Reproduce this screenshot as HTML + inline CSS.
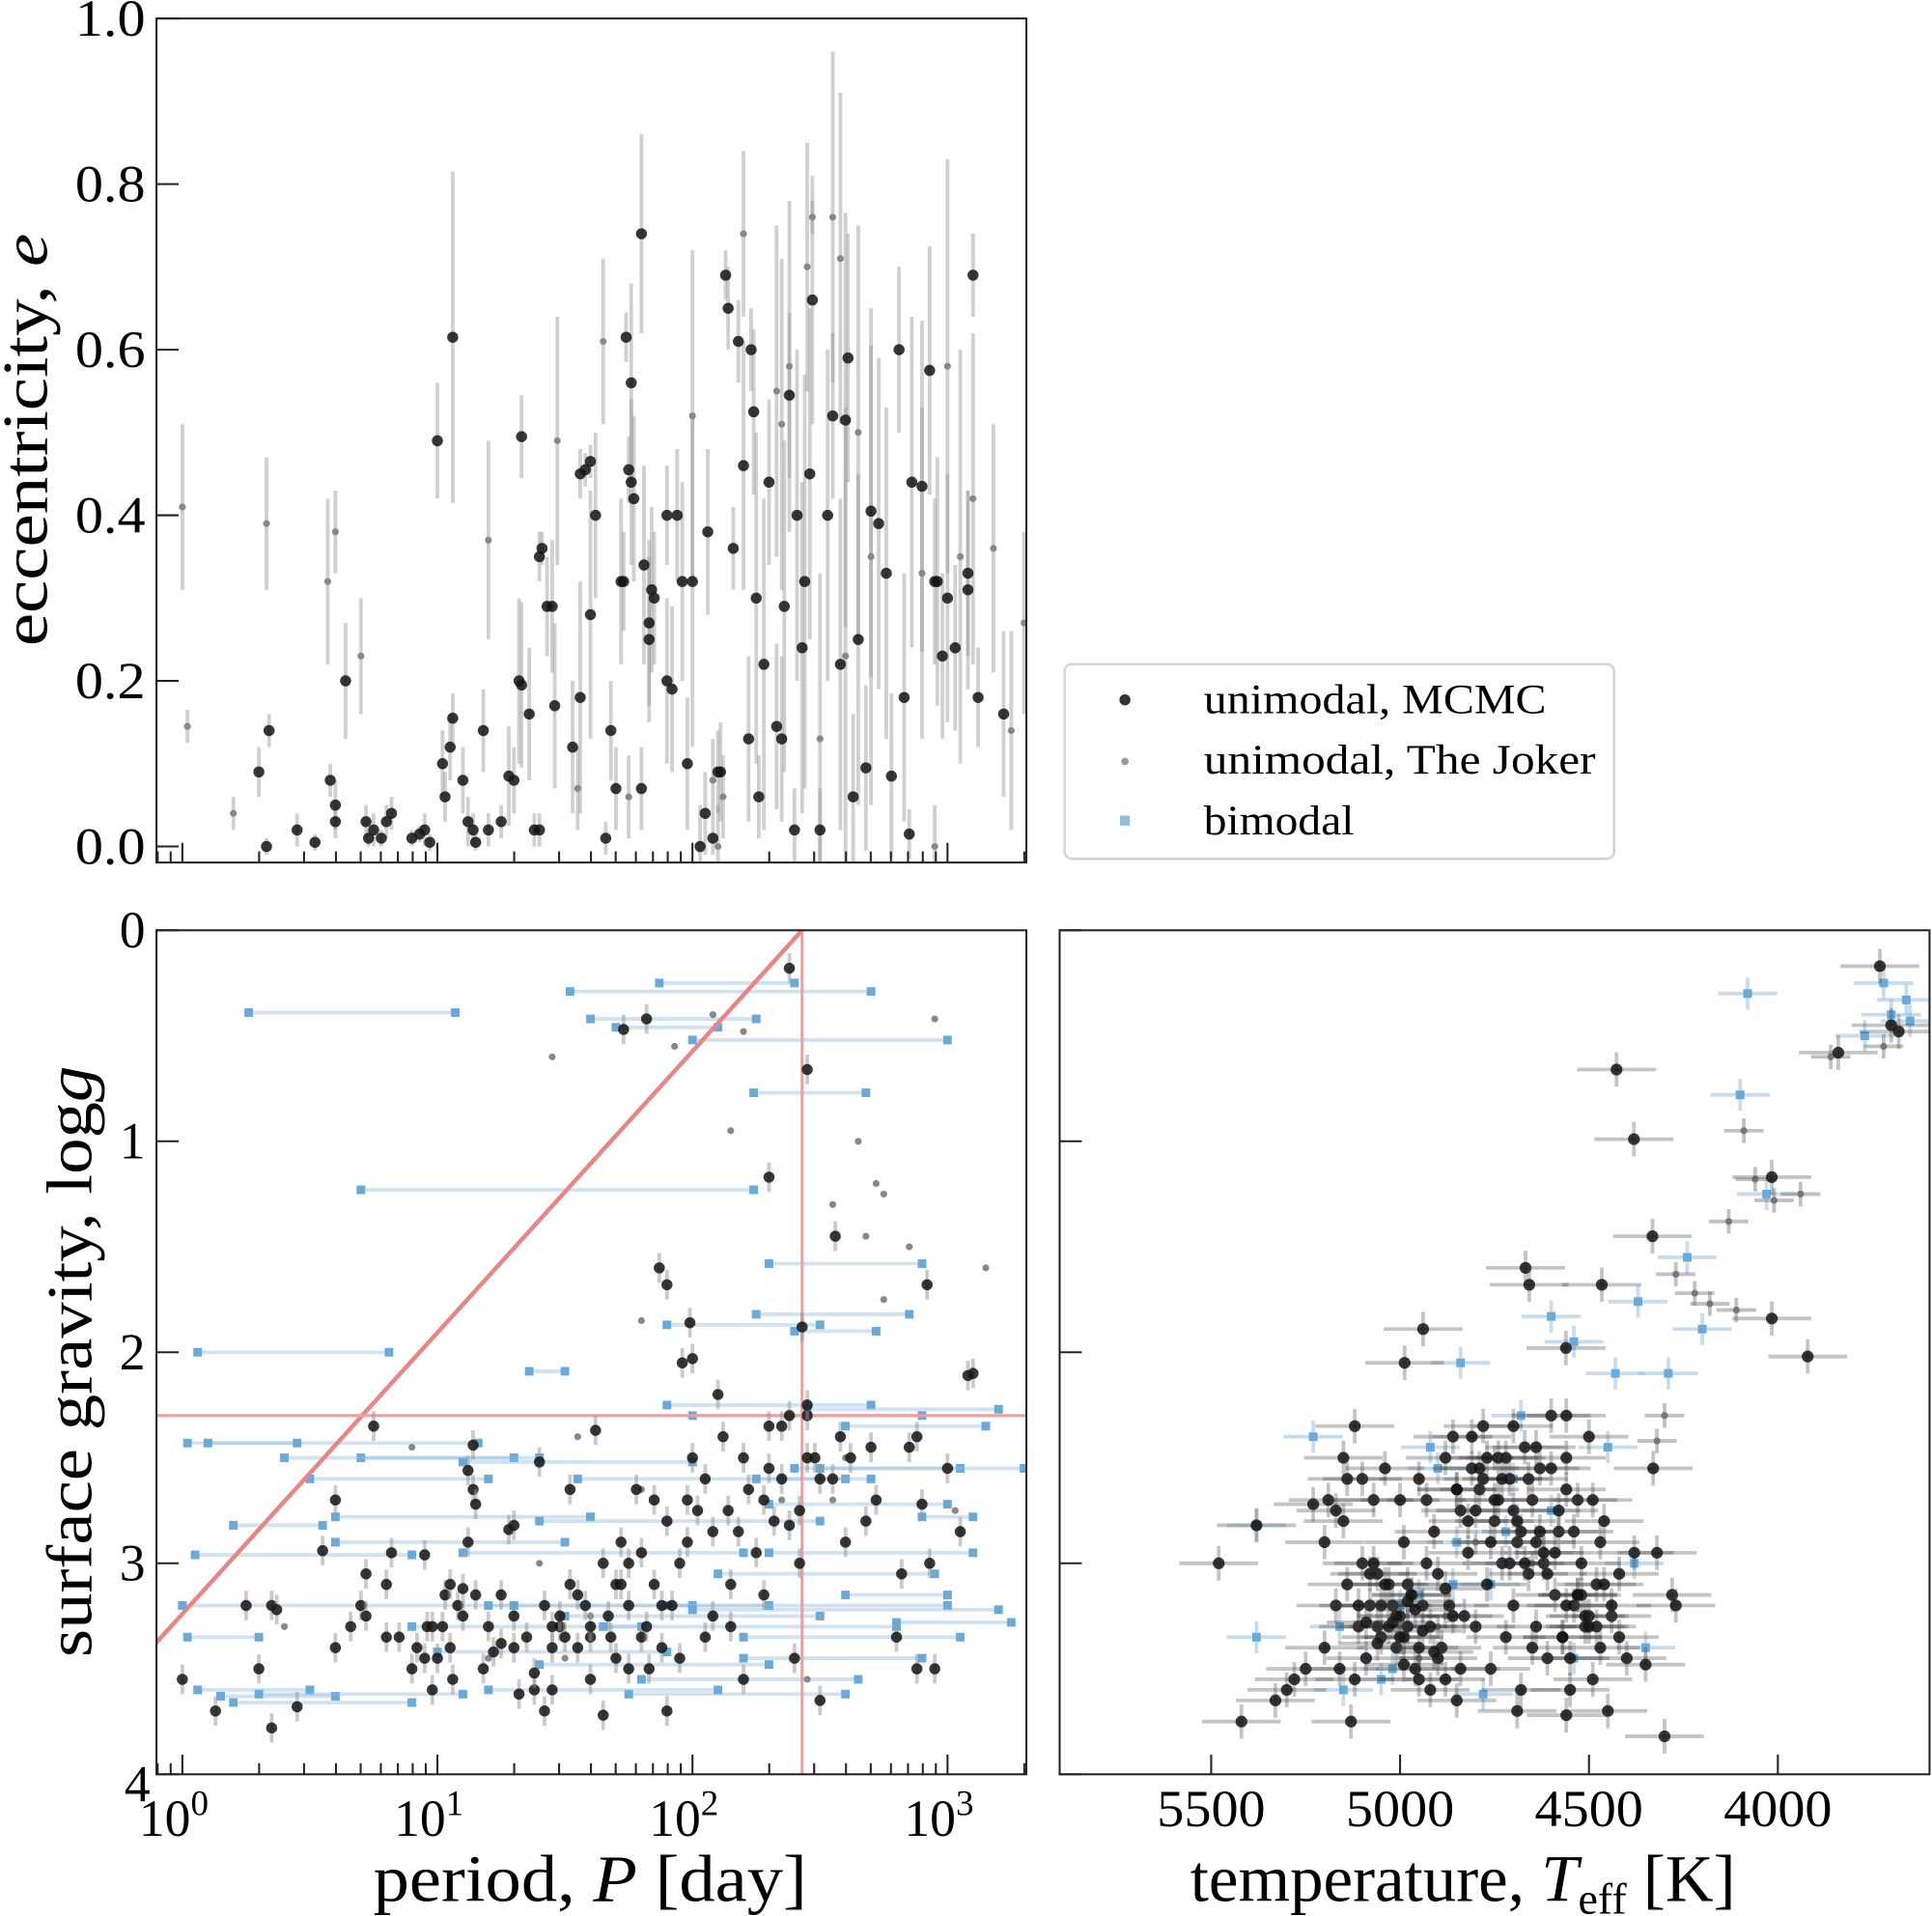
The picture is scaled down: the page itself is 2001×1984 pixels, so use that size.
<!DOCTYPE html>
<html><head><meta charset="utf-8"><style>
html,body{margin:0;padding:0;background:#fff;}
svg{display:block;font-family:"Liberation Serif",serif;}
</style></head><body>
<svg id="fig" width="2001" height="1984" viewBox="0 0 1568 1555" preserveAspectRatio="none" xmlns="http://www.w3.org/2000/svg">
<defs>
<clipPath id="cTop"><rect x="127" y="15" width="706" height="685"/></clipPath>
<clipPath id="cBL"><rect x="127" y="755" width="706" height="685"/></clipPath>
<clipPath id="cBR"><rect x="860" y="755" width="706" height="685"/></clipPath>
</defs>
<g id="gTop" clip-path="url(#cTop)"></g>
<g id="gBL" clip-path="url(#cBL)"></g>
<g id="gBR" clip-path="url(#cBR)"></g>
<g id="axes"></g>
<g>
<rect x="864" y="539" width="446" height="158" rx="6" fill="#fff" stroke="#d5d5d5" stroke-width="2"/>
<circle cx="913" cy="568" r="4.5" fill="#333"/>
<text x="977" y="579" font-size="34" textLength="278" lengthAdjust="spacingAndGlyphs">unimodal, MCMC</text>
<circle cx="913" cy="618" r="3" fill="#999"/>
<text x="977" y="628" font-size="34" textLength="318" lengthAdjust="spacingAndGlyphs">unimodal, The Joker</text>
<rect x="909" y="662" width="8" height="8" fill="#8ebde0"/>
<text x="977" y="677" font-size="34" textLength="122" lengthAdjust="spacingAndGlyphs">bimodal</text>
</g>
<text transform="translate(38,357) rotate(-90)" text-anchor="middle" font-size="52" textLength="335" lengthAdjust="spacingAndGlyphs">eccentricity, <tspan font-style="italic">e</tspan></text>
<text transform="translate(74,1105) rotate(-90)" text-anchor="middle" font-size="52" textLength="480" lengthAdjust="spacingAndGlyphs">surface gravity, log<tspan font-style="italic">g</tspan></text>
<text x="479" y="1543" text-anchor="middle" font-size="54" textLength="352" lengthAdjust="spacingAndGlyphs">period, <tspan font-style="italic">P</tspan> [day]</text>
<text x="966" y="1543" font-size="54">temperature, <tspan font-style="italic">T</tspan><tspan font-size="36" dy="10">eff</tspan><tspan dy="-10"> [K]</tspan></text>
</svg>
<script>
// ---- top panel: log10 period, eccentricity, error (MCMC) ----
const topMcmcLogP=[0.3,0.34,0.33,0.45,0.52,0.58,0.6,0.6,0.64,0.72,0.73,0.75,0.78,0.8,0.82,0.9,0.93,0.95,0.97,1.0,1.02,1.03,1.05,1.06,1.06,1.1,1.12,1.14,1.15,1.18,1.2,1.25,1.28,1.3,1.32,1.33,1.33,1.36,1.38,1.4,1.4,1.41,1.43,1.45,1.46,1.53,1.56,1.56,1.58,1.6,1.6,1.62,1.66,1.68,1.7,1.72,1.73,1.74,1.75,1.76,1.76,1.77,1.8,1.81,1.83,1.83,1.84,1.85,1.8,1.9,1.9,1.92,1.94,1.96,1.98,2.0,2.03,2.05,2.06,2.08,2.1,2.11,2.13,2.14,2.16,2.18,2.2,2.22,2.23,2.24,2.25,2.26,2.28,2.3,2.33,2.35,2.36,2.38,2.4,2.41,2.43,2.44,2.46,2.47,2.5,2.53,2.55,2.58,2.6,2.61,2.63,2.65,2.68,2.7,2.73,2.76,2.78,2.81,2.83,2.85,2.86,2.9,2.93,2.96,2.98,3.0,3.03,2.95,3.08,3.08,3.1,3.12,3.22];
const topMcmcE=[0.09,0.14,0,0.02,0.005,0.08,0.05,0.03,0.2,0.03,0.01,0.02,0.01,0.03,0.04,0.01,0.015,0.02,0.005,0.49,0.1,0.06,0.12,0.155,0.615,0.08,0.03,0.02,0.005,0.14,0.02,0.03,0.085,0.08,0.2,0.195,0.495,0.16,0.02,0.02,0.35,0.36,0.29,0.29,0.17,0.12,0.18,0.45,0.455,0.465,0.28,0.4,0.01,0.14,0.07,0.32,0.32,0.615,0.455,0.44,0.56,0.42,0.07,0.34,0.25,0.27,0.31,0.3,0.74,0.2,0.4,0.19,0.4,0.32,0.1,0.32,0.0,0.04,0.38,0.01,0.09,0.09,0.69,0.65,0.36,0.61,0.46,0.13,0.6,0.525,0.3,0.06,0.22,0.44,0.145,0.13,0.29,0.545,0.02,0.4,0.24,0.32,0.45,0.66,0.02,0.4,0.52,0.22,0.515,0.59,0.06,0.25,0.095,0.405,0.39,0.33,0.085,0.6,0.18,0.015,0.44,0.435,0.575,0.32,0.23,0.3,0.24,0.32,0.33,0.31,0.69,0.18,0.16];
const topMcmcErr=[0.03,0.02,0.01,0.02,0.01,0.02,0.03,0.02,0.07,0.02,0.01,0.02,0.01,0.02,0.02,0.01,0.01,0.02,0.01,0.07,0.04,0.03,0.04,0.03,0.2,0.04,0.03,0.02,0.01,0.05,0.02,0.02,0.06,0.04,0.1,0.1,0.05,0.08,0.02,0.02,0.03,0.02,0.06,0.08,0.1,0.08,0.14,0.03,0.02,0.02,0.15,0.1,0.02,0.06,0.05,0.1,0.06,0.03,0.04,0.1,0.12,0.1,0.05,0.12,0.1,0.1,0.1,0.08,0.12,0.1,0.06,0.1,0.08,0.12,0.08,0.2,0.05,0.05,0.1,0.02,0.05,0.06,0.03,0.05,0.05,0.05,0.15,0.1,0.05,0.1,0.2,0.05,0.2,0.1,0.1,0.1,0.2,0.1,0.05,0.2,0.2,0.25,0.2,0.15,0.05,0.2,0.1,0.2,0.25,0.15,0.1,0.2,0.1,0.2,0.2,0.2,0.1,0.1,0.15,0.03,0.2,0.2,0.15,0.15,0.1,0.15,0.1,0.1,0.1,0.12,0.05,0.06,0.1];
// ---- top panel: The Joker ----
const topJokerLogP=[0.0,0.02,0.2,0.33,0.57,0.6,0.7,1.2,1.47,1.55,1.65,1.75,2.0,2.08,2.12,2.2,2.33,2.35,2.38,2.45,2.47,2.55,2.58,2.65,2.7,2.95,3.0,3.05,3.1,3.3,3.25,3.18,2.9,2.6,2.5,2.1];
const topJokerE=[0.41,0.145,0.04,0.39,0.32,0.38,0.23,0.37,0.49,0.07,0.61,0.06,0.52,0.08,0.06,0.74,0.55,0.51,0.58,0.7,0.76,0.76,0.71,0.5,0.35,0.0,0.58,0.35,0.42,0.27,0.14,0.36,0.33,0.23,0.13,0.0];
const topJokerErr=[0.1,0.02,0.02,0.08,0.1,0.05,0.07,0.12,0.15,0.05,0.1,0.05,0.2,0.05,0.05,0.1,0.2,0.2,0.2,0.15,0.02,0.2,0.2,0.25,0.3,0.05,0.25,0.25,0.2,0.11,0.12,0.15,0.2,0.3,0.2,0.05];
// ---- bottom-left: MCMC (log10 P, logg) ----
const blMcmcLogP=[0.0,0.13,0.25,0.3,0.35,0.37,0.45,0.55,0.6,0.6,0.66,0.7,0.72,0.75,0.72,0.8,0.82,0.8,0.85,0.9,0.92,0.95,0.96,0.98,0.35,0.98,1.0,1.02,1.03,1.05,1.05,1.06,1.08,1.1,1.12,1.14,1.12,1.14,1.15,1.15,1.18,1.2,1.22,1.25,1.28,1.3,1.3,1.32,1.35,1.38,1.38,1.4,1.42,1.45,1.48,1.5,1.48,1.45,1.42,1.55,1.58,1.6,1.62,1.65,1.67,1.7,1.72,1.75,1.75,1.78,1.8,1.8,1.82,1.85,1.85,1.88,1.9,1.92,1.95,1.95,1.98,1.98,1.75,1.7,1.65,1.6,1.52,1.9,1.55,2.0,2.02,2.05,2.05,2.08,2.1,2.12,2.14,2.15,2.18,2.2,2.2,2.22,2.25,2.28,2.3,2.3,2.32,2.35,2.35,2.38,2.4,2.42,2.45,2.45,2.48,2.5,2.38,2.42,2.45,2.5,2.55,2.58,2.6,2.62,2.68,2.7,2.72,2.8,2.82,2.85,2.88,2.88,2.9,2.93,2.95,3.0,3.05,3.1,2.3,2.38,2.45,2.56,1.73,1.82,1.87,1.9,2.43,2.92,1.99,1.96,2.0,3.08,1.25,1.1,1.6,1.72,1.88,2.08,0.95,1.3,1.52,1.68,1.83,2.15,2.28,1.45];
const blMcmcLogg=[3.55,3.7,3.2,3.5,3.2,3.22,3.68,2.94,3.4,2.7,3.3,3.2,3.25,2.35,3.05,3.1,2.95,3.35,3.35,3.5,3.4,2.96,3.3,3.6,3.78,3.3,3.45,3.3,3.15,3.1,3.4,3.55,3.2,3.12,2.9,2.44,2.56,2.65,2.72,3.15,3.5,3.3,3.42,3.38,2.84,3.25,2.82,3.62,3.35,3.6,3.52,2.52,3.2,3.4,3.3,3.35,3.25,3.6,3.7,3.4,3.2,3.55,2.37,3.0,3.25,3.1,2.9,3.5,3.2,2.65,2.95,3.35,3.3,3.1,2.7,3.4,2.8,3.2,3.0,3.45,2.7,2.9,3.0,3.45,3.72,3.35,2.65,3.7,3.15,2.5,2.75,2.6,3.35,2.85,2.2,2.4,2.75,3.1,2.85,2.5,3.55,2.65,2.95,2.7,2.35,2.55,2.8,2.35,2.6,2.3,3.45,2.75,2.5,2.3,2.5,3.65,2.82,3.0,2.25,2.6,2.6,2.4,2.9,2.5,2.8,2.45,2.7,3.35,3.05,2.45,2.4,3.5,2.72,3.0,3.5,2.55,2.85,2.1,1.17,0.18,0.66,1.45,0.47,0.42,1.6,1.68,1.88,1.68,1.86,2.05,2.03,2.11,3.15,3.25,3.3,3.1,3.2,3.25,3.45,3.4,3.1,3.35,3.5,3.3,3.15,3.3];
const blJokerLogP=[1.45,1.93,2.08,2.2,2.15,2.65,2.55,2.72,2.75,2.68,2.85,3.15,2.75,2.95,1.8,0.9,1.55,1.8,2.35,3.03,2.6,1.6,1.2,0.4,2.45,1.4,2.55,1.5];
const blJokerLogg=[0.6,0.55,0.4,0.48,0.95,1.0,1.3,1.2,1.25,1.45,1.5,1.6,1.75,0.42,1.85,2.45,2.4,2.65,2.7,2.75,2.5,3.25,3.45,3.3,3.55,3.0,2.7,3.45];
// ---- bottom-left: bimodal (two period modes, logg) ----
const blBiLo=[0.26,0.7,0.06,1.36,1.52,1.87,1.6,1.7,2.0,2.24,2.3,1.9,2.25,2.4,0.02,0.1,0.2,0.05,0.0,0.02,0.06,0.15,0.2,0.3,0.5,0.7,0.6,0.9,1.2,1.0,1.3,1.5,1.65,1.8,1.75,1.9,2.0,2.2,2.1,2.3,2.4,2.5,2.6,1.9,2.0,2.3,1.1,0.4,0.6,1.1,1.4,1.4,1.2,2.2,2.8,2.6,2.45,2.9,1.55,2.25];
const blBiHi=[1.07,2.24,0.81,1.5,2.7,2.4,2.25,2.1,3.0,2.68,2.9,2.5,2.85,2.72,1.16,0.45,0.55,0.9,1.3,0.3,0.5,0.6,0.9,1.1,1.2,1.3,1.6,1.8,2.0,1.9,2.3,2.5,2.8,2.65,2.6,3.0,3.2,3.05,2.95,3.1,3.05,3.3,3.15,2.7,2.9,3.0,2.0,1.4,1.5,2.2,2.5,2.3,2.1,2.9,3.25,3.0,3.2,3.1,2.6,2.7];
const blBiLogg=[0.39,1.23,2.0,2.09,0.29,0.25,0.42,0.46,0.52,0.77,1.58,1.87,1.82,1.9,2.43,2.43,2.82,2.96,3.2,3.35,3.6,3.63,3.66,3.62,2.6,2.5,2.78,3.3,3.2,3.42,3.2,3.25,3.3,3.55,3.62,3.2,3.22,3.35,3.05,2.95,2.55,2.55,2.35,2.25,2.3,2.72,2.52,2.5,2.9,2.95,2.8,3.48,3.6,3.45,3.28,3.15,2.27,2.78,2.6,2.6];
// ---- bottom-right: Teff vs logg ----
const brMcmcTeff=[3730,3680,3700,3840,4427,4381,4016,3921,4016,4668,4658,4332,4466,4939,4988,4561,5480,5420,5380,5330,5300,5280,5250,5230,5200,5200,5190,5170,5160,5150,5140,5130,5120,5110,5100,5100,5090,5080,5070,5060,5050,5040,5030,5020,5010,5000,4990,4980,4970,4960,4950,4940,4930,4920,4910,4900,4890,4880,4870,4860,4850,4840,4830,4820,4810,4800,4790,4780,4770,4760,4750,4740,4730,4720,4710,4700,4690,4680,4670,4660,4650,4640,4630,4620,4610,4600,4590,4580,4570,4560,4550,4540,4530,4520,4510,4500,4490,4480,4470,4460,4450,4440,4420,4400,4380,4350,4330,4320,4300,4280,4270,4690,4560,5120,4980,5060,4920,4700,4560,4640,4800,5000,5170,
5050,5030,5010,4990,4970,4950,5040,5000,4960,5020,4980,4940,5080,5060,4900,4880,4860,4840,5090,4930,4910,5110,4950,4990,5070,4850,4820,4780,4760,4740,4720,4700,4680,4660,4640,4620,4600,4580,4560,4540,4520,4500,4480,4460,4440,4420,4610,4590,4570,4550,4530,4510,4490,4470,4770,4750,4730,4810,4790,4710,4690,4670,4650,4630,4850,4880,5150,5140,4560,4530,4500];
const brMcmcLogg=[0.17,0.48,0.45,0.58,0.66,0.99,1.84,2.02,1.17,1.6,1.68,1.45,1.68,1.89,2.05,1.98,3.0,3.75,2.82,3.65,3.6,3.55,3.5,2.72,2.9,3.4,2.7,3.2,3.5,2.8,3.1,3.75,2.35,3.3,2.6,3.0,3.45,3.2,2.7,3.3,3.35,2.55,3.1,3.2,3.4,3.25,2.9,3.3,3.15,3.5,2.6,3.2,2.7,3.3,2.85,3.05,3.4,2.5,3.2,2.4,3.65,2.75,3.25,2.95,2.55,3.3,2.65,2.35,3.1,3.5,2.8,2.5,3.0,3.35,2.6,3.2,2.9,3.6,2.45,3.05,2.7,3.3,2.55,3.0,3.45,2.3,3.15,2.85,3.35,2.5,3.6,3.2,2.7,3.0,3.3,2.4,3.55,3.1,3.4,2.8,3.7,3.25,3.05,3.45,2.95,3.48,2.55,2.95,3.82,3.15,3.2,3.7,3.72,3.55,3.1,3.05,3.6,2.35,2.3,2.9,2.75,2.7,2.75,
3.2,3.3,3.25,3.35,3.15,3.4,3.1,3.35,3.22,3.28,3.18,3.32,3.05,3.38,3.45,3.12,3.25,3.5,3.28,3.0,3.42,3.2,3.55,3.48,3.0,2.65,2.8,2.6,2.9,2.7,2.5,2.75,2.85,2.6,2.45,2.95,2.55,2.75,2.65,2.85,3.15,3.25,3.3,3.1,3.2,3.35,3.05,2.95,3.35,3.45,3.15,3.25,2.7,2.9,2.5,2.7,2.6,2.4,2.55,3.0,2.8,3.0,3.4,2.85,2.65,3.55,2.5,2.6,3.2,3.15,3.3];
const brJokerTeff=[3720,3860,4090,4130,4010,4060,3940,4220,4180,4110,4270,4320,4750,4900,4300,4800,4650,4950,4880];
const brJokerLogg=[0.55,0.6,0.95,1.38,1.28,1.18,1.25,1.72,1.77,1.8,1.63,2.42,2.5,3.3,2.3,2.9,3.0,3.45,3.25];
const brBiTeff=[3720,3660,3700,3650,3770,4080,4100,4030,4240,4370,4200,4540,4600,4430,4290,4840,5230,5380,5380,5160,4920,4700,4600,4450,4350,4760,5020,5150,4950,4850,4540,4680,4380,5000,4980,5050,4780,4720,4620,4860,4900];
const brBiLogg=[0.25,0.33,0.4,0.43,0.5,0.3,0.78,1.25,1.55,1.76,1.89,1.95,1.83,2.1,2.1,2.05,2.4,2.82,3.35,3.3,2.45,2.6,2.75,2.45,3.4,3.1,3.5,3.6,3.15,2.9,3.45,2.3,3.0,3.2,3.3,3.55,3.62,2.85,2.95,3.1,2.55];
// ---- axis ticks ----
const eTicks=[0.0,0.2,0.4,0.6,0.8,1.0];
const eTickLabels=["0.0","0.2","0.4","0.6","0.8","1.0"];
const pTicks=[0,1,2,3];
const gTicks=[0,1,2,3,4];
const tTicks=[5500,5000,4500,4000];

const NS="http://www.w3.org/2000/svg";
const xP=lp=>148+207*lp;
const yE=e=>687-672*e;
const yG=g=>755+171.25*g;
const xT=t=>983+(5500-t)*0.3066;
function mk(tag,attrs,parent){const el=document.createElementNS(NS,tag);for(const k in attrs)el.setAttribute(k,attrs[k]);parent.appendChild(el);return el;}
const gTop=document.getElementById('gTop'),gBL=document.getElementById('gBL'),gBR=document.getElementById('gBR'),ax=document.getElementById('axes');

// top panel
topJokerLogP.forEach((lp,i)=>{const l=mk('line',{x1:xP(lp),x2:xP(lp),y1:yE(topJokerE[i]-topJokerErr[i]),y2:yE(topJokerE[i]+topJokerErr[i]),stroke:'rgba(150,150,150,0.45)','stroke-width':3},gTop);

});
topMcmcLogP.forEach((lp,i)=>{const l=mk('line',{x1:xP(lp),x2:xP(lp),y1:yE(topMcmcE[i]-topMcmcErr[i]),y2:yE(topMcmcE[i]+topMcmcErr[i]),stroke:'rgba(150,150,150,0.45)','stroke-width':3},gTop);

});
topJokerLogP.forEach((lp,i)=>{const c=mk('circle',{cx:xP(lp),cy:yE(topJokerE[i]),r:2.8,fill:'#888'},gTop);

});
topMcmcLogP.forEach((lp,i)=>{const c=mk('circle',{cx:xP(lp),cy:yE(topMcmcE[i]),r:4.5,fill:'rgba(20,20,20,0.85)'},gTop);

});

// bottom-left
blBiLo.forEach((lo,i)=>{const y=yG(blBiLogg[i]);const l=mk('line',{x1:xP(lo),x2:xP(blBiHi[i]),y1:y,y2:y,stroke:'rgba(140,185,222,0.4)','stroke-width':3},gBL);


[lo,blBiHi[i]].forEach(v=>{const r=mk('rect',{x:xP(v)-3.5,y:y-3.5,width:7,height:7,fill:'#6aaad8'},gBL);

});});
const red1=mk('line',{x1:xP(-0.2),y1:yG(3.24+1.333*0.2),x2:xP(2.43),y2:yG(0),stroke:'#e88585','stroke-width':3.5},gBL);


const red2=mk('line',{x1:xP(2.43),y1:755,x2:xP(2.43),y2:1440,stroke:'#eda0a0','stroke-width':2.5},gBL);


const red3=mk('line',{x1:127,y1:yG(2.3),x2:833,y2:yG(2.3),stroke:'#eda0a0','stroke-width':2.5},gBL);


blJokerLogP.forEach((lp,i)=>{const c=mk('circle',{cx:xP(lp),cy:yG(blJokerLogg[i]),r:2.8,fill:'#888'},gBL);

});
blMcmcLogP.forEach((lp,i)=>{const y=yG(blMcmcLogg[i]);const l=mk('line',{x1:xP(lp),x2:xP(lp),y1:y-12,y2:y+12,stroke:'rgba(150,150,150,0.5)','stroke-width':3},gBL);


const c=mk('circle',{cx:xP(lp),cy:y,r:4.5,fill:'rgba(20,20,20,0.85)'},gBL);

});

// bottom-right
function cross(t,g,col,dx,dy){const x=xT(t),y=yG(g);
const a=mk('line',{x1:x-dx,x2:x+dx,y1:y,y2:y,stroke:col,'stroke-width':3},gBR);


const b=mk('line',{x1:x,x2:x,y1:y-dy,y2:y+dy,stroke:col,'stroke-width':3},gBR);

}
brBiTeff.forEach((t,i)=>{cross(t,brBiLogg[i],'rgba(130,180,220,0.45)',24,13);
const r=mk('rect',{x:xT(t)-3.5,y:yG(brBiLogg[i])-3.5,width:7,height:7,fill:'#6aaad8'},gBR);

});
brJokerTeff.forEach((t,i)=>{cross(t,brJokerLogg[i],'rgba(100,100,100,0.4)',16,10);
const c=mk('circle',{cx:xT(t),cy:yG(brJokerLogg[i]),r:2.8,fill:'#777'},gBR);

});
brMcmcTeff.forEach((t,i)=>{cross(t,brMcmcLogg[i],'rgba(60,60,60,0.3)',32,14);
const c=mk('circle',{cx:xT(t),cy:yG(brMcmcLogg[i]),r:4.8,fill:'rgba(20,20,20,0.85)'},gBR);

});

// axes frames
[[127,15,'top-panel-frame'],[127,755,'bottom-left-frame'],[860,755,'bottom-right-frame']].forEach(f=>{const r=mk('rect',{x:f[0],y:f[1],width:706,height:685,fill:'none',stroke:'#222','stroke-width':1.6},ax);

});
function tick(x1,y1,x2,y2){const l=mk('line',{x1,y1,x2,y2,stroke:'#222','stroke-width':1.6},ax);

}
function label(x,y,s,anchor,size,name){const t=mk('text',{x,y,'text-anchor':anchor,'font-size':size},ax);t.textContent=s;

return t;}
eTicks.forEach((e,i)=>{tick(127,yE(e),145,yE(e));const t=label(118,yE(e)+14,eTickLabels[i],'end',42,'y-tick-label-e');t.setAttribute('textLength','57');t.setAttribute('lengthAdjust','spacingAndGlyphs');});
gTicks.forEach(g=>{tick(127,yG(g),145,yG(g));tick(860,yG(g),878,yG(g));label(g===4?122:118,yG(g)+(g===4?22:14),String(g),'end',42,'y-tick-label-logg');});
[700,1440].forEach(yb=>{pTicks.forEach(p=>tick(xP(p),yb,xP(p),yb-16));
for(let d=-1;d<=3;d++)for(let m=2;m<=9;m++){const lp=d+Math.log10(m);const x=xP(lp);if(x>127&&x<833)tick(x,yb,x,yb-9);}});
pTicks.forEach(p=>{const t=label(xP(p)-7,1490,'10','middle',42,'x-tick-label-period');const s=document.createElementNS(NS,'tspan');s.setAttribute('font-size','29');s.setAttribute('dy','-17');s.textContent=String(p);t.appendChild(s);});
tTicks.forEach(t=>{const l=label(xT(t),1482,String(t),'middle',42,'x-tick-label-teff');l.setAttribute('textLength','88');l.setAttribute('lengthAdjust','spacingAndGlyphs');tick(xT(t),1440,xT(t),1424);});
</script>
</body></html>
